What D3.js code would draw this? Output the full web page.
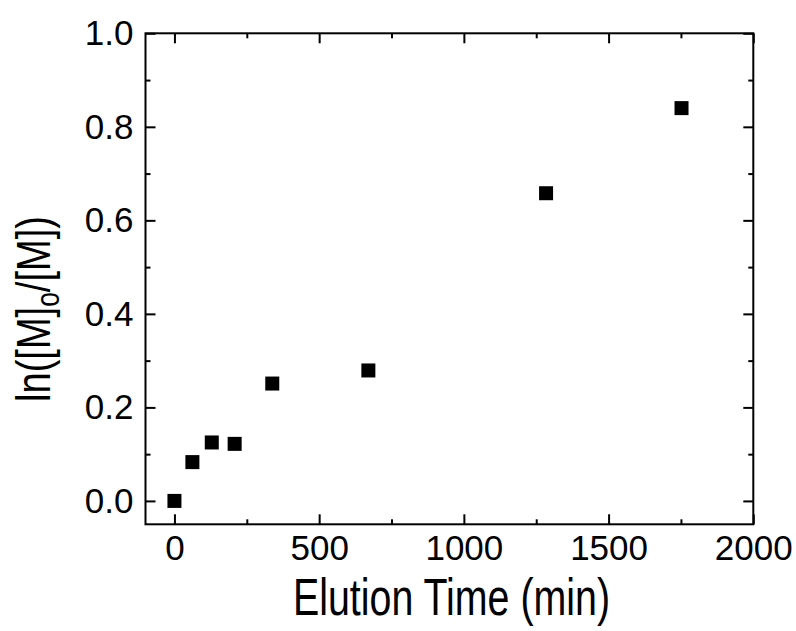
<!DOCTYPE html>
<html>
<head>
<meta charset="utf-8">
<script src="https://cdn.jsdelivr.net/npm/d3@7"></script>
<style>
  body { margin: 0; background: #fff; }
  svg { display: block; }
  .axis text { font-family: "Liberation Sans", Arial, sans-serif; font-size: 35px; fill: #000; }
  .axis line { stroke: #000; stroke-width: 2px; }
  .title { font-family: "Liberation Sans", Arial, sans-serif; fill: #000; }
</style>
</head>
<body>
<div id="chart"></div>
<script>
// data
var elutionTime = [0, 62, 129, 208, 338, 670, 1284, 1752];
var lnRatio = [0.000, 0.083, 0.125, 0.122, 0.251, 0.279, 0.658, 0.840];
var xMajorTicks = [0, 500, 1000, 1500, 2000];
var xMinorTicks = [250, 750, 1250, 1750];
var yMajorTicks = [0.0, 0.2, 0.4, 0.6, 0.8, 1.0];
var yMinorTicks = [0.1, 0.3, 0.5, 0.7, 0.9];

var W = 796, H = 631;
var margin = { left: 145.5, right: 796 - 753.3, top: 33.3, bottom: 631 - 524.3 };
var w = W - margin.left - margin.right;
var h = H - margin.top - margin.bottom;

var svg = d3.select('#chart').append('svg')
    .attr('width', W)
    .attr('height', H);

var g = svg.append('g')
    .attr('transform', 'translate(' + margin.left + ',' + margin.top + ')');

var x = d3.scaleLinear().domain([-100, 2000]).range([0, w]);
var y = d3.scaleLinear().domain([-0.05, 1.0]).range([h, 0]);

function cleanAxis(sel) {
    sel.select('.domain').remove();
    sel.attr('font-size', null).attr('font-family', null);
}

// bottom axis, ticks point inwards
g.append('g').attr('class', 'axis')
    .attr('transform', 'translate(0,' + h + ')')
    .call(d3.axisBottom(x).tickValues(xMajorTicks).tickSize(-10).tickPadding(11).tickFormat(d3.format('d')))
    .call(cleanAxis);
g.append('g').attr('class', 'axis')
    .attr('transform', 'translate(0,' + h + ')')
    .call(d3.axisBottom(x).tickValues(xMinorTicks).tickSize(-5).tickFormat(''))
    .call(cleanAxis);

// top axis, ticks only
g.append('g').attr('class', 'axis')
    .call(d3.axisTop(x).tickValues(xMajorTicks).tickSize(-10).tickFormat(''))
    .call(cleanAxis);
g.append('g').attr('class', 'axis')
    .call(d3.axisTop(x).tickValues(xMinorTicks).tickSize(-5).tickFormat(''))
    .call(cleanAxis);

// left axis
g.append('g').attr('class', 'axis')
    .call(d3.axisLeft(y).tickValues(yMajorTicks).tickSize(-10).tickPadding(12).tickFormat(d3.format('.1f')))
    .call(cleanAxis);
g.append('g').attr('class', 'axis')
    .call(d3.axisLeft(y).tickValues(yMinorTicks).tickSize(-5).tickFormat(''))
    .call(cleanAxis);

// right axis, ticks only
g.append('g').attr('class', 'axis')
    .attr('transform', 'translate(' + w + ',0)')
    .call(d3.axisRight(y).tickValues(yMajorTicks).tickSize(-10).tickFormat(''))
    .call(cleanAxis);
g.append('g').attr('class', 'axis')
    .attr('transform', 'translate(' + w + ',0)')
    .call(d3.axisRight(y).tickValues(yMinorTicks).tickSize(-5).tickFormat(''))
    .call(cleanAxis);

// frame
g.append('rect')
    .attr('width', w)
    .attr('height', h)
    .attr('fill', 'none')
    .attr('stroke', '#000')
    .attr('stroke-width', 2);

// points
var pts = elutionTime.map(function (t, i) { return { t: t, v: lnRatio[i] }; });
var s = 14;
g.selectAll('.pt')
    .data(pts)
    .enter().append('rect')
    .attr('class', 'pt')
    .attr('x', function (d) { return x(d.t) - s / 2; })
    .attr('y', function (d) { return y(d.v) - s / 2; })
    .attr('width', s)
    .attr('height', s)
    .attr('fill', '#000');

// axis titles (the original lettering is narrow, so squeeze it)
svg.append('text')
    .attr('class', 'title')
    .attr('x', 451.5)
    .attr('y', 615)
    .attr('text-anchor', 'middle')
    .attr('font-size', 52)
    .attr('textLength', 317)
    .attr('lengthAdjust', 'spacingAndGlyphs')
    .text('Elution Time (min)');

var yt = svg.append('text')
    .attr('class', 'title')
    .attr('transform', 'translate(50,309) rotate(-90)')
    .attr('text-anchor', 'middle')
    .attr('font-size', 49)
    .attr('textLength', 186)
    .attr('lengthAdjust', 'spacingAndGlyphs');
yt.append('tspan').text('ln([M]');
yt.append('tspan').attr('font-size', 34).attr('dy', 9).text('o');
yt.append('tspan').attr('dy', -9).text('/[M])');
</script>
</body>
</html>
